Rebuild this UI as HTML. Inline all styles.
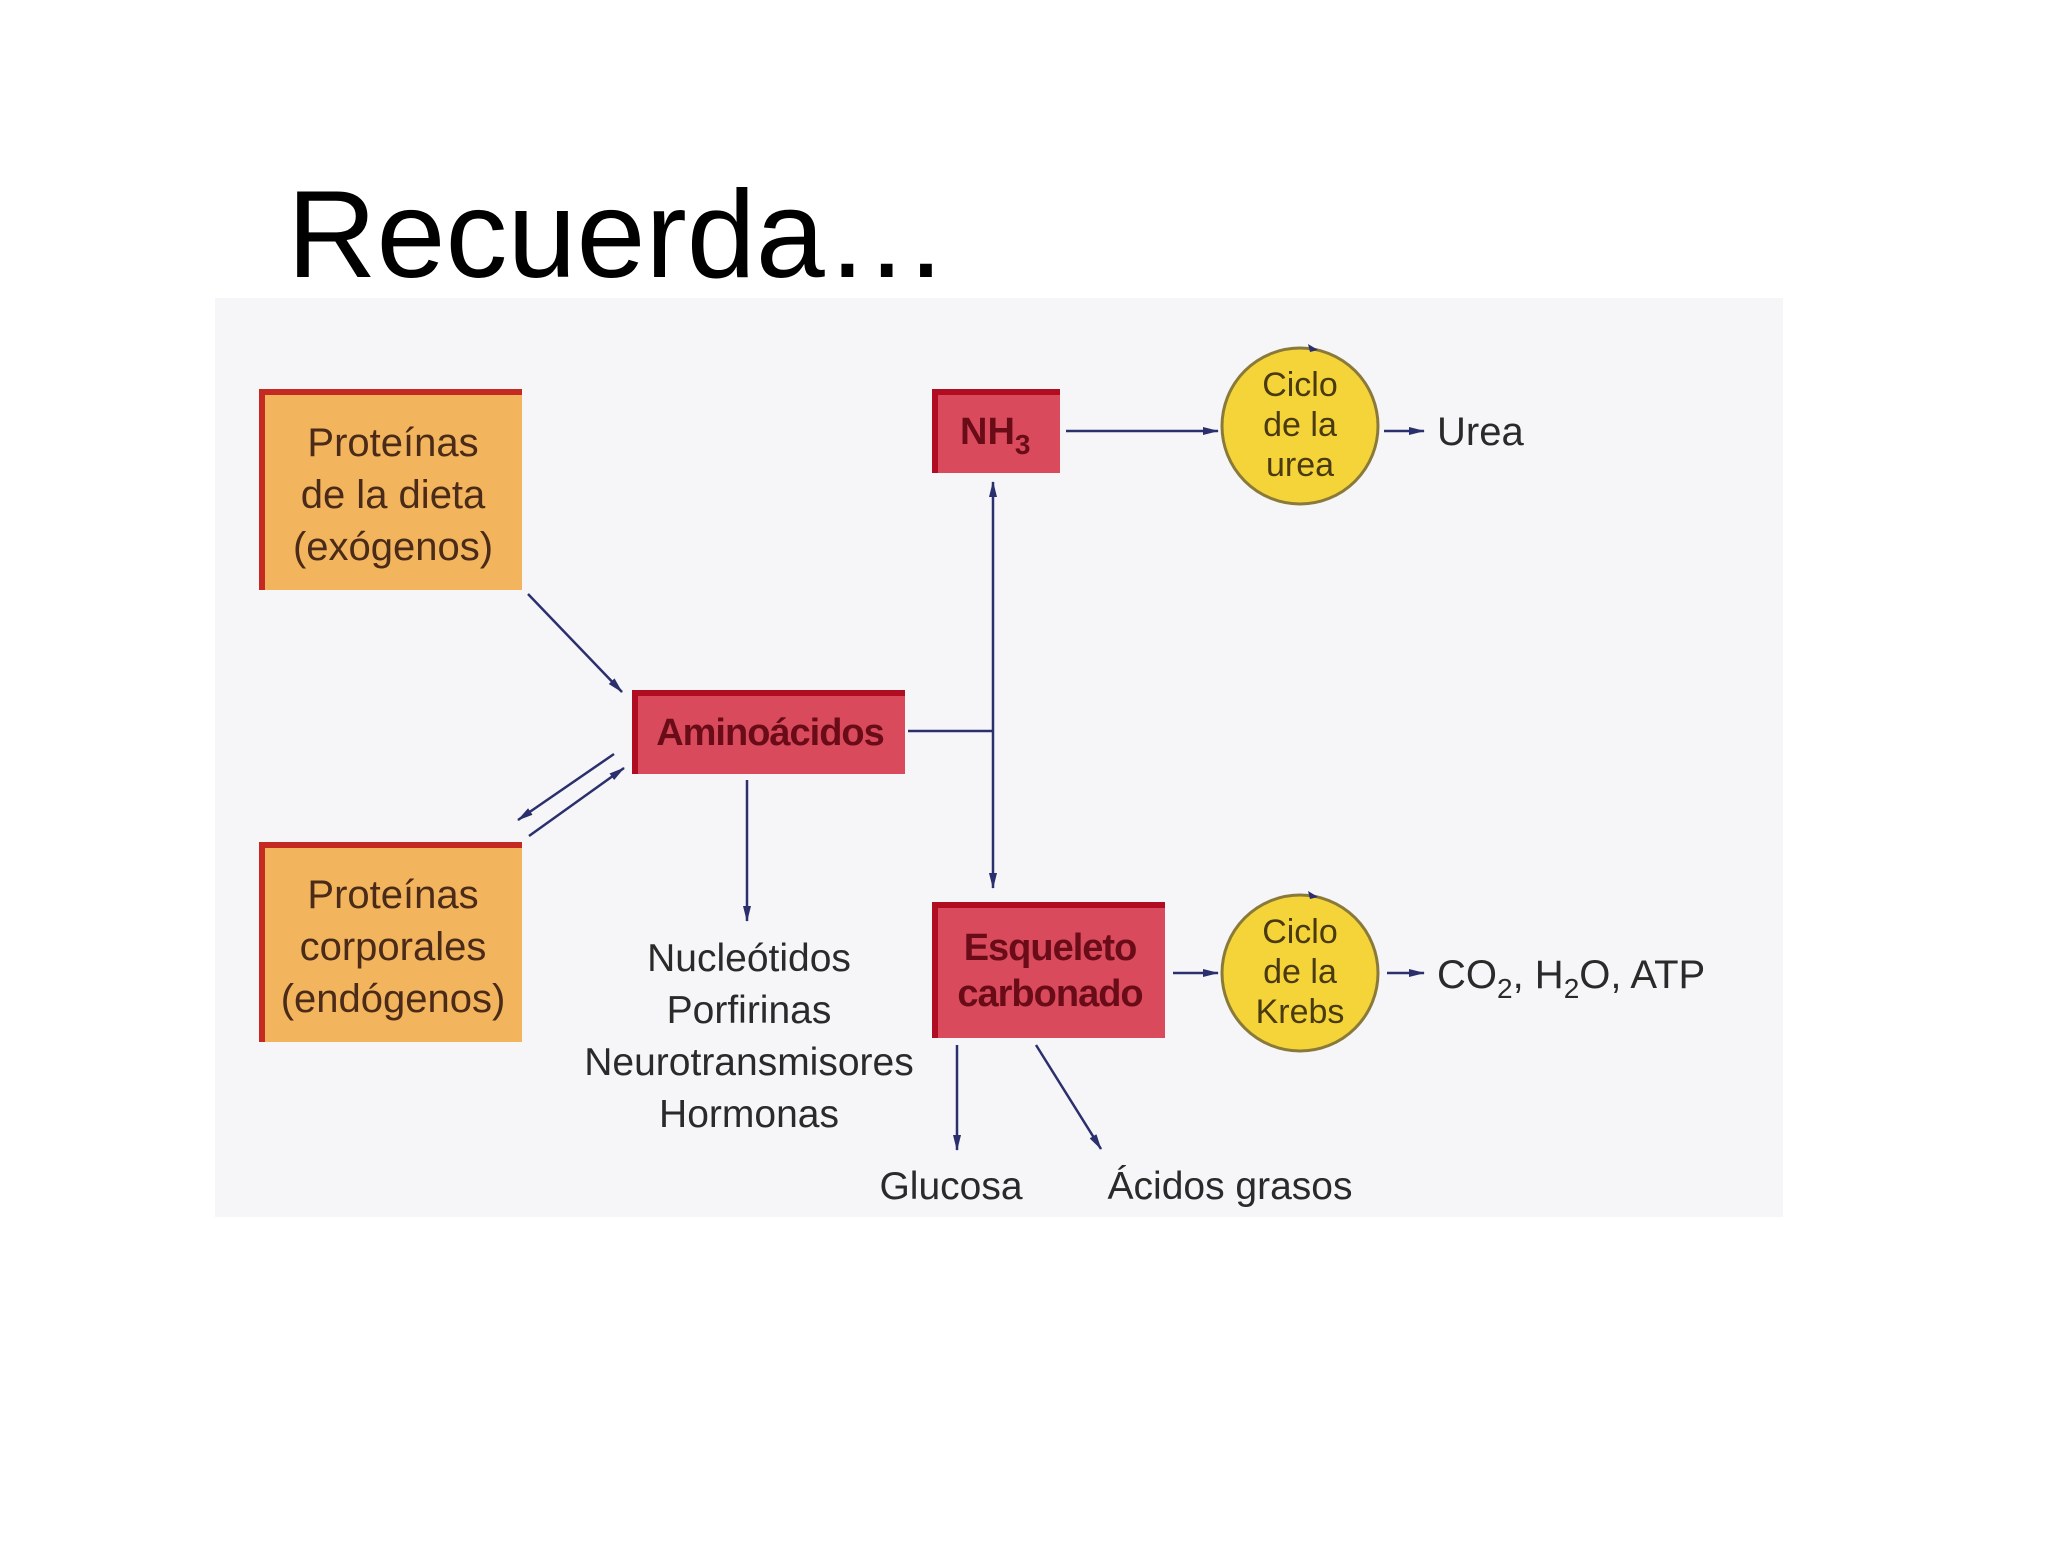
<!DOCTYPE html>
<html><head><meta charset="utf-8"><style>
html,body{margin:0;padding:0;background:#fff;}
body{width:2048px;height:1536px;overflow:hidden;}
svg text{font-family:"Liberation Sans",sans-serif;}
</style></head><body>
<svg width="2048" height="1536" viewBox="0 0 2048 1536" xmlns="http://www.w3.org/2000/svg">
<defs>
<marker id="ah" viewBox="0 0 10 10" refX="9" refY="5" markerWidth="6" markerHeight="6" orient="auto-start-reverse" markerUnits="userSpaceOnUse">
<path d="M0,0 L10,5 L0,10 z" fill="#2b2f6e" transform="scale(1)"/></marker>
<marker id="a2" viewBox="0 0 16 10" refX="15" refY="5" markerWidth="16" markerHeight="10" orient="auto-start-reverse" markerUnits="userSpaceOnUse">
<path d="M0,1 L16,5 L0,9 z" fill="#2b2f6e"/></marker>
</defs>
<text x="287" y="277" font-size="124" fill="#000">Recuerda…</text>
<rect x="215" y="298" width="1568" height="919" fill="#f6f6f8"/>
<!-- orange boxes -->
<g>
<rect x="259" y="389" width="263" height="201" fill="#f2b45c"/>
<path d="M262,590 V392 H522" fill="none" stroke="#c42a22" stroke-width="6"/>
<g font-size="40" fill="#4a2a18" text-anchor="middle">
<text x="393" y="456">Proteínas</text><text x="393" y="508">de la dieta</text><text x="393" y="560">(exógenos)</text></g>
<rect x="259" y="842" width="263" height="200" fill="#f2b45c"/>
<path d="M262,1042 V845 H522" fill="none" stroke="#c42a22" stroke-width="6"/>
<g font-size="40" fill="#4a2a18" text-anchor="middle">
<text x="393" y="908">Proteínas</text><text x="393" y="960">corporales</text><text x="393" y="1012">(endógenos)</text></g>
</g>
<!-- red boxes -->
<rect x="632" y="690" width="273" height="84" fill="#d84a5c"/>
<path d="M635,774 V693 H905" fill="none" stroke="#b00d22" stroke-width="6"/>
<text x="770" y="745" font-size="38" fill="#6a0c18" text-anchor="middle" font-weight="bold" letter-spacing="-1">Aminoácidos</text>
<rect x="932" y="389" width="128" height="84" fill="#d84a5c"/>
<path d="M935,473 V392 H1060" fill="none" stroke="#b00d22" stroke-width="6"/>
<text x="960" y="444" font-size="38" fill="#6a0c18" font-weight="bold">NH<tspan font-size="28" dy="10">3</tspan></text>
<rect x="932" y="902" width="233" height="136" fill="#d84a5c"/>
<path d="M935,1038 V905 H1165" fill="none" stroke="#b00d22" stroke-width="6"/>
<g font-size="38" fill="#6a0c18" text-anchor="middle" font-weight="bold" letter-spacing="-1">
<text x="1050" y="960">Esqueleto</text><text x="1050" y="1006">carbonado</text></g>
<!-- circles -->
<circle cx="1300" cy="426" r="78" fill="#f5d43a" stroke="#8a7a3a" stroke-width="3"/>
<path d="M1318,350 l-10,-6 l2,8z" fill="#2b2f6e"/>
<g font-size="34" fill="#4a3a10" text-anchor="middle"><text x="1300" y="396">Ciclo</text><text x="1300" y="436">de la</text><text x="1300" y="476">urea</text></g>
<circle cx="1300" cy="973" r="78" fill="#f5d43a" stroke="#8a7a3a" stroke-width="3"/>
<path d="M1318,897 l-10,-6 l2,8z" fill="#2b2f6e"/>
<g font-size="34" fill="#4a3a10" text-anchor="middle"><text x="1300" y="943">Ciclo</text><text x="1300" y="983">de la</text><text x="1300" y="1023">Krebs</text></g>
<!-- connectors -->
<g stroke="#2b2f6e" stroke-width="2.5" fill="none">
<line x1="1066" y1="431" x2="1218" y2="431" marker-end="url(#a2)"/>
<line x1="1384" y1="431" x2="1424" y2="431" marker-end="url(#a2)"/>
<line x1="908" y1="731" x2="993" y2="731"/>
<line x1="993" y1="482" x2="993" y2="888" marker-start="url(#a2)" marker-end="url(#a2)"/>
<line x1="1173" y1="973" x2="1218" y2="973" marker-end="url(#a2)"/>
<line x1="1387" y1="973" x2="1424" y2="973" marker-end="url(#a2)"/>
<line x1="747" y1="780" x2="747" y2="921" marker-end="url(#a2)"/>
<line x1="957" y1="1045" x2="957" y2="1150" marker-end="url(#a2)"/>
<line x1="1036" y1="1045" x2="1101" y2="1149" marker-end="url(#a2)"/>
<line x1="528" y1="594" x2="622" y2="692" marker-end="url(#a2)"/>
<line x1="614" y1="754" x2="518" y2="820" marker-end="url(#a2)"/>
<line x1="529" y1="836" x2="624" y2="768" marker-end="url(#a2)"/>
</g>
<g font-size="40" fill="#2a2a2a">
<text x="1437" y="445">Urea</text>
<text x="1437" y="988">CO<tspan font-size="28" dy="10">2</tspan><tspan dy="-10">, H</tspan><tspan font-size="28" dy="10">2</tspan><tspan dy="-10">O, ATP</tspan></text>
</g>
<g font-size="39" fill="#2a2a2a" text-anchor="middle">
<text x="749" y="971">Nucleótidos</text><text x="749" y="1023">Porfirinas</text><text x="749" y="1075">Neurotransmisores</text><text x="749" y="1127">Hormonas</text>
<text x="951" y="1199">Glucosa</text><text x="1230" y="1199">Ácidos grasos</text>
</g>
</svg>
</body></html>
